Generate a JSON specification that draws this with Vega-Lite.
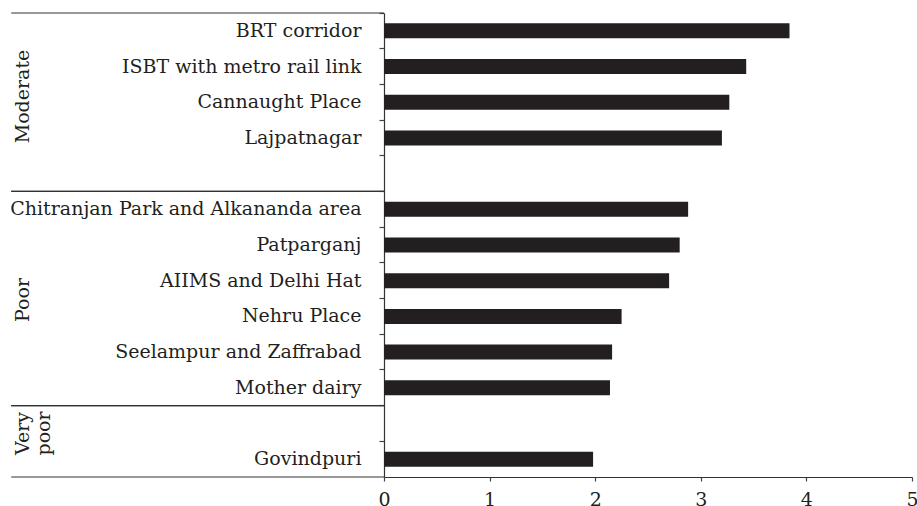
{
  "$schema": "https://vega.github.io/schema/vega-lite/v6.json",
  "width": 528,
  "height": 464,
  "autosize": "none",
  "padding": {"left": 384, "top": 13, "right": 5, "bottom": 29},
  "background": "white",
  "config": {"view": {"stroke": null}, "font": "DejaVu Serif"},
  "datasets": {
    "places": [
      {"place": "BRT corridor", "score": 3.84, "group": "Moderate"},
      {"place": "ISBT with metro rail link", "score": 3.43, "group": "Moderate"},
      {"place": "Cannaught Place", "score": 3.27, "group": "Moderate"},
      {"place": "Lajpatnagar", "score": 3.2, "group": "Moderate"},
      {"place": "Chitranjan Park and Alkananda area", "score": 2.88, "group": "Poor"},
      {"place": "Patparganj", "score": 2.8, "group": "Poor"},
      {"place": "AIIMS and Delhi Hat", "score": 2.7, "group": "Poor"},
      {"place": "Nehru Place", "score": 2.25, "group": "Poor"},
      {"place": "Seelampur and Zaffrabad", "score": 2.16, "group": "Poor"},
      {"place": "Mother dairy", "score": 2.14, "group": "Poor"},
      {"place": "Govindpuri", "score": 1.98, "group": "Very poor"}
    ],
    "groups": [
      {"group": "Moderate", "label": "Moderate", "first": "BRT corridor", "last": " ", "anchor": "Cannaught Place"},
      {"group": "Poor", "label": "Poor", "first": "Chitranjan Park and Alkananda area", "last": "Mother dairy", "anchor": "Nehru Place"},
      {"group": "Very poor", "label": "Very\npoor", "first": "  ", "last": "Govindpuri", "anchor": "  "}
    ]
  },
  "layer": [
    {
      "data": {"name": "places"},
      "mark": {"type": "bar", "height": {"band": 0.42}, "color": "#231f20"},
      "encoding": {
        "y": {
          "field": "place", "type": "nominal",
          "scale": {"domain": ["BRT corridor", "ISBT with metro rail link", "Cannaught Place", "Lajpatnagar", " ", "Chitranjan Park and Alkananda area", "Patparganj", "AIIMS and Delhi Hat", "Nehru Place", "Seelampur and Zaffrabad", "Mother dairy", "  ", "Govindpuri"], "paddingInner": 0, "paddingOuter": 0},
          "axis": {"title": null, "bandPosition": 0, "tickSize": 5, "tickColor": "#444444", "tickWidth": 1.2, "domainColor": "#333333", "domainWidth": 1.2, "labelPadding": 18, "labelFontSize": 19, "labelColor": "#231f20", "labelLimit": 420, "labelFont": "DejaVu Serif"}
        },
        "x": {
          "field": "score", "type": "quantitative",
          "scale": {"domain": [0, 5], "nice": false, "zero": true},
          "axis": {"title": null, "values": [0, 1, 2, 3, 4, 5], "format": "d", "grid": false, "tickSize": 4, "tickColor": "#444444", "tickWidth": 1.2, "domainColor": "#333333", "domainWidth": 1.2, "labelPadding": 9, "labelFontSize": 19, "labelColor": "#231f20", "labelFlush": false, "labelFont": "DejaVu Serif"}
        }
      }
    },
    {
      "data": {"name": "groups"},
      "mark": {"type": "rule", "color": "#333333", "strokeWidth": 1.2},
      "encoding": {
        "y": {"field": "first", "type": "nominal", "bandPosition": 0},
        "x": {"datum": -3.53, "type": "quantitative"},
        "x2": {"datum": 0}
      }
    },
    {
      "data": {"name": "groups"},
      "mark": {"type": "rule", "color": "#333333", "strokeWidth": 1.2},
      "encoding": {
        "y": {"field": "last", "type": "nominal", "bandPosition": 1},
        "x": {"datum": -3.53, "type": "quantitative"},
        "x2": {"datum": 0}
      }
    },
    {
      "data": {"name": "groups"},
      "transform": [{"filter": "datum.group === 'Moderate'"}],
      "mark": {"type": "text", "angle": 270, "align": "center", "baseline": "top", "fontSize": 19, "font": "DejaVu Serif", "color": "#231f20", "lineBreak": "\n", "lineHeight": 21},
      "encoding": {
        "y": {"field": "anchor", "type": "nominal", "bandPosition": 0.34},
        "x": {"datum": -3.5, "type": "quantitative"},
        "text": {"field": "label"}
      }
    },
    {
      "data": {"name": "groups"},
      "transform": [{"filter": "datum.group === 'Poor'"}],
      "mark": {"type": "text", "angle": 270, "align": "center", "baseline": "top", "fontSize": 19, "font": "DejaVu Serif", "color": "#231f20", "lineBreak": "\n", "lineHeight": 21},
      "encoding": {
        "y": {"field": "anchor", "type": "nominal", "bandPosition": 0.04},
        "x": {"datum": -3.5, "type": "quantitative"},
        "text": {"field": "label"}
      }
    },
    {
      "data": {"name": "groups"},
      "transform": [{"filter": "datum.group === 'Very poor'"}],
      "mark": {"type": "text", "angle": 270, "align": "center", "baseline": "top", "fontSize": 19, "font": "DejaVu Serif", "color": "#231f20", "lineBreak": "\n", "lineHeight": 21},
      "encoding": {
        "y": {"field": "anchor", "type": "nominal", "bandPosition": 0.78},
        "x": {"datum": -3.5, "type": "quantitative"},
        "text": {"field": "label"}
      }
    }
  ]
}
